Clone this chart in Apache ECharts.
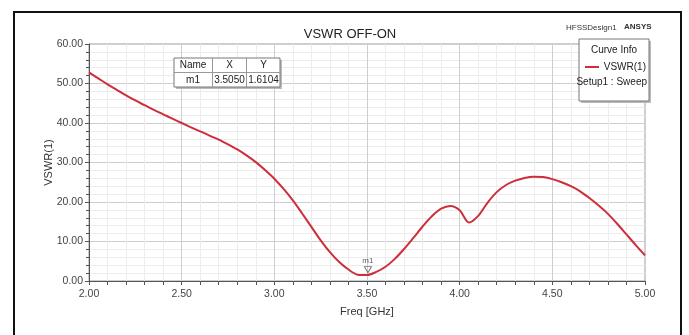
<!DOCTYPE html>
<html><head><meta charset="utf-8">
<script src="https://cdn.jsdelivr.net/npm/echarts@6/dist/echarts.min.js"></script>
<style>html,body{margin:0;padding:0;background:#fff}#c{width:689px;height:335px}</style>
</head><body><div id="c"></div>
<script>
const freq = [2.00,2.05,2.10,2.15,2.20,2.25,2.30,2.35,2.40,2.45,2.50,2.55,2.60,2.65,2.70,2.75,2.80,2.85,2.90,2.95,3.00,3.05,3.10,3.15,3.20,3.25,3.30,3.35,3.40,3.45,3.50,3.55,3.60,3.65,3.70,3.75,3.80,3.85,3.90,3.95,4.00,4.05,4.10,4.15,4.20,4.25,4.30,4.35,4.40,4.45,4.50,4.55,4.60,4.65,4.70,4.75,4.80,4.85,4.90,4.95,5.00];
const vswr = [52.8,51.3,49.8,48.4,47.0,45.7,44.5,43.3,42.2,41.1,40.0,38.9,37.9,36.8,35.8,34.6,33.3,31.8,30.1,28.1,25.9,23.3,20.4,17.1,13.7,10.3,7.3,4.8,2.9,1.6,1.5,2.3,3.6,5.6,8.1,10.9,13.8,16.4,18.3,19.0,17.9,14.8,16.5,19.8,22.5,24.3,25.4,26.1,26.4,26.3,25.8,25.0,24.0,22.7,21.0,19.1,17.0,14.5,11.8,9.1,6.5];
const markerName = 'm1';
const markerX = 3.5050;
const markerY = 1.6104;
const xTicks = [2.0,2.5,3.0,3.5,4.0,4.5,5.0];
const yTicks = [0,10,20,30,40,50,60];

const FONT = '"Liberation Sans",Arial,sans-serif';
const chart = echarts.init(document.getElementById('c'));
const data = freq.map((f,i)=>[f,vswr[i]]);
chart.setOption({
  animation:false,
  backgroundColor:'#fff',
  title:{text:'VSWR OFF-ON',left:345,top:23,textAlign:'center',textStyle:{fontFamily:FONT,fontSize:13,fontWeight:'normal',color:'#222'}},
  grid:{left:89,right:44,top:44,bottom:54,show:true,borderColor:'#9a9a9a',borderWidth:1,backgroundColor:'transparent'},
  xAxis:{type:'value',min:xTicks[0],max:xTicks[xTicks.length-1],interval:0.5,
    name:'Freq [GHz]',nameLocation:'middle',nameGap:25,nameTextStyle:{fontFamily:FONT,fontSize:11,color:'#333'},
    axisLine:{lineStyle:{color:'#555'}},
    axisTick:{show:true,length:4,lineStyle:{color:'#555'}},
    minorTick:{show:true,splitNumber:5,length:4,lineStyle:{color:'#555'}},
    axisLabel:{formatter:v=>v.toFixed(2),fontFamily:FONT,fontSize:10.5,color:'#444',margin:8},
    splitLine:{show:true,lineStyle:{color:'#cfcfcf'}},
    minorSplitLine:{show:true,lineStyle:{color:'#ececec'}}},
  yAxis:{type:'value',min:yTicks[0],max:yTicks[yTicks.length-1],interval:10,
    name:'VSWR(1)',nameLocation:'middle',nameGap:35,nameRotate:90,nameMoveOverlap:false,nameTextStyle:{fontFamily:FONT,fontSize:11,color:'#333'},
    axisLine:{show:true,lineStyle:{color:'#555'}},
    axisTick:{show:true,length:4,lineStyle:{color:'#555'}},
    minorTick:{show:true,splitNumber:5,length:3,lineStyle:{color:'#555'}},
    axisLabel:{formatter:v=>v.toFixed(2),fontFamily:FONT,fontSize:10.5,color:'#444',margin:6},
    splitLine:{show:true,lineStyle:{color:'#cfcfcf'}},
    minorSplitLine:{show:true,lineStyle:{color:'#ececec'}}},
  series:[
    {type:'line',data:data,smooth:0.3,showSymbol:false,lineStyle:{color:'#cc2f3b',width:2},z:3},
    {type:'scatter',data:[[markerX,markerY]],symbol:'triangle',symbolRotate:180,symbolSize:[7,6],symbolOffset:[0,-5],
     itemStyle:{color:'rgba(0,0,0,0)',borderColor:'#555',borderWidth:1},
     label:{show:true,position:'top',distance:1,formatter:markerName,fontFamily:FONT,fontSize:8,color:'#333'},z:4}
  ],
  graphic:[
    {type:'rect',shape:{x:14,y:12,width:667,height:330},style:{fill:'none',stroke:'#111',lineWidth:2},z:0,silent:true},
    {type:'text',left:566,top:24,style:{text:'HFSSDesign1',font:'8px '+FONT,fill:'#333'}},
    {type:'text',left:624,top:23,style:{text:'ANSYS',font:'bold 8px '+FONT,fill:'#333'}},
    // marker table
    {type:'rect',shape:{x:176,y:60,width:106,height:29},style:{fill:'#bbb'},z:5},
    {type:'rect',shape:{x:174,y:58,width:106,height:29},style:{fill:'#fff',stroke:'#777',lineWidth:1},z:6},
    {type:'line',shape:{x1:174,y1:72.5,x2:280,y2:72.5},style:{stroke:'#999'},z:7},
    {type:'line',shape:{x1:212.5,y1:58,x2:212.5,y2:87},style:{stroke:'#999'},z:7},
    {type:'line',shape:{x1:246.5,y1:58,x2:246.5,y2:87},style:{stroke:'#999'},z:7},
    {type:'text',x:193,y:65,style:{text:'Name',font:'10px '+FONT,fill:'#222',align:'center',verticalAlign:'middle'},z:8},
    {type:'text',x:229.5,y:65,style:{text:'X',font:'10px '+FONT,fill:'#222',align:'center',verticalAlign:'middle'},z:8},
    {type:'text',x:263.5,y:65,style:{text:'Y',font:'10px '+FONT,fill:'#222',align:'center',verticalAlign:'middle'},z:8},
    {type:'text',x:193,y:80,style:{text:markerName,font:'10px '+FONT,fill:'#222',align:'center',verticalAlign:'middle'},z:8},
    {type:'text',x:229.5,y:80,style:{text:markerX.toFixed(4),font:'10px '+FONT,fill:'#222',align:'center',verticalAlign:'middle'},z:8},
    {type:'text',x:263.5,y:80,style:{text:markerY.toFixed(4),font:'10px '+FONT,fill:'#222',align:'center',verticalAlign:'middle'},z:8},
    // curve info legend
    {type:'rect',shape:{x:581,y:41,width:70,height:62},style:{fill:'#bbb'},z:5},
    {type:'rect',shape:{x:579,y:39,width:70,height:62},style:{fill:'#fff',stroke:'#777',lineWidth:1},z:6},
    {type:'text',x:614,y:50,style:{text:'Curve Info',font:'10px '+FONT,fill:'#222',align:'center',verticalAlign:'middle'},z:8},
    {type:'line',shape:{x1:585,y1:67,x2:599,y2:67},style:{stroke:'#cc2f3b',lineWidth:2},z:8},
    {type:'text',x:646,y:67,style:{text:'VSWR(1)',font:'10px '+FONT,fill:'#222',align:'right',verticalAlign:'middle'},z:8},
    {type:'text',x:647,y:82,style:{text:'Setup1 : Sweep',font:'10px '+FONT,fill:'#222',align:'right',verticalAlign:'middle'},z:8}
  ]
});
</script></body></html>
